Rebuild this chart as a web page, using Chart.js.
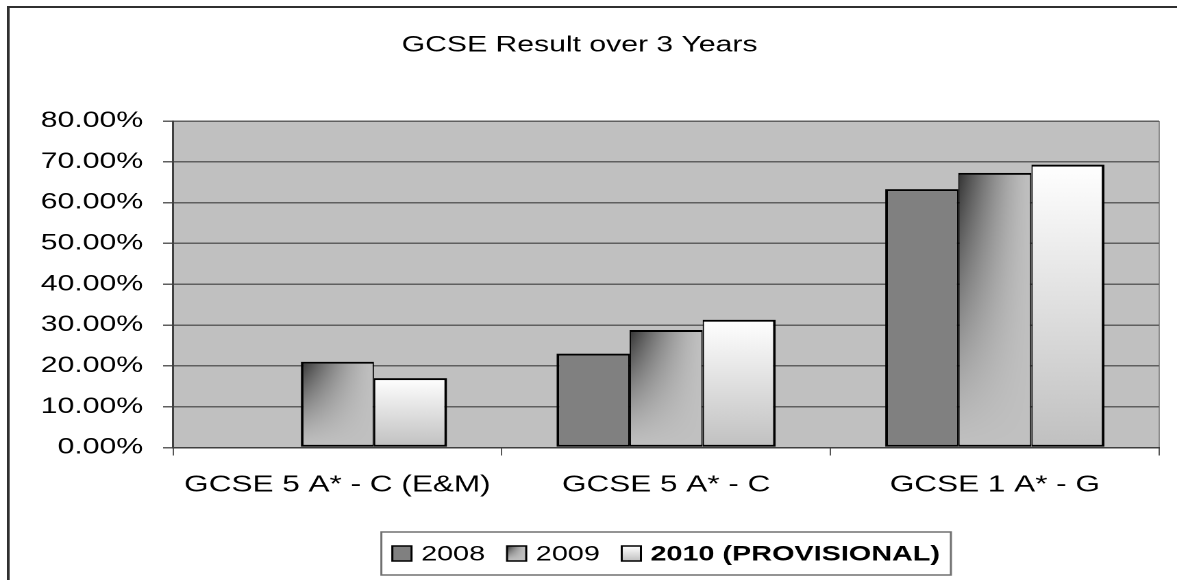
<!DOCTYPE html>
<html>
<head>
<meta charset="utf-8">
<title>GCSE Result over 3 Years</title>
<script src="https://cdn.jsdelivr.net/npm/chart.js@4.4.1/dist/chart.umd.min.js"></script>
<style>
  html, body { margin: 0; padding: 0; background: #fff; overflow: hidden; }
  /* the original picture is stretched sideways, so draw narrow and stretch */
  #wrap { width: 859px; height: 580px; transform: scaleX(1.3702); transform-origin: 0 0; }
</style>
</head>
<body>
<div id="wrap"><canvas id="chart"></canvas></div>
<script>
const categories = ['GCSE 5 A* - C (E&M)', 'GCSE 5 A* - C', 'GCSE 1 A* - G']
const years = ['2008', '2009', '2010 (PROVISIONAL)']
const values2008 = [null, 23.0, 63.3]
const values2009 = [21.0, 28.8, 67.3]
const values2010 = [17.0, 31.3, 69.3]
const yTicks = [0, 10, 20, 30, 40, 50, 60, 70, 80]

const FONT = '"Liberation Sans", Arial, sans-serif'
const DPR = 2
const CAT_PCT = 0.667
const LEGEND_TOP = 532
const LEGEND_H = 43

// where chart.js will put a bar, worked out from the scales
const barRect = (c) => {
  const xs = c.chart.scales.x, ys = c.chart.scales.y
  if (!xs || !ys || c.raw == null) return null
  const n = c.chart.data.datasets.length
  const cat = xs.getPixelForValue(1) - xs.getPixelForValue(0)
  const group = cat * CAT_PCT
  const w = group / n
  const left = xs.getPixelForValue(c.dataIndex) - group / 2 + c.datasetIndex * w
  const top = ys.getPixelForValue(c.raw)
  const bottom = ys.getPixelForValue(0)
  const r = { left, top, w, h: bottom - top }
  if (![r.left, r.top, r.w, r.h].every(Number.isFinite) || r.w < 1 || r.h < 1) return null
  return r
}

// dark top-left corner fading out to light grey
const cornerFill = (ctx, left, top, w, h) => {
  const pw = Math.max(2, Math.round(w * DPR)), ph = Math.max(2, Math.round(h * DPR))
  const off = document.createElement('canvas')
  off.width = pw
  off.height = ph
  const octx = off.getContext('2d')
  const img = octx.createImageData(pw, ph)
  for (let y = 0; y < ph; y++) {
    const v = y / (ph - 1)
    for (let x = 0; x < pw; x++) {
      const u = x / (pw - 1)
      const d = Math.pow(1 - u, 1.5) * Math.pow(1 - v, 1.3)
      const g = Math.round(192 - 141 * d)
      const k = (y * pw + x) * 4
      img.data[k] = g
      img.data[k + 1] = g
      img.data[k + 2] = g
      img.data[k + 3] = 255
    }
  }
  octx.putImageData(img, 0, 0)
  const pat = ctx.createPattern(off, 'no-repeat')
  pat.setTransform(new DOMMatrix().translate(left, top).scale(1 / DPR))
  return pat
}

const topFade = (ctx, top, h) => {
  const g = ctx.createLinearGradient(0, top, 0, top + h)
  g.addColorStop(0, '#ffffff')
  g.addColorStop(1, '#c0c0c0')
  return g
}

// thinner inner edges so two touching bars don't double up
const sideBorders = (c) => {
  const ds = c.chart.data.datasets
  const prev = ds[c.datasetIndex - 1], next = ds[c.datasetIndex + 1]
  const hasPrev = prev && prev.data[c.dataIndex] != null
  const hasNext = next && next.data[c.dataIndex] != null
  return { top: 2, bottom: 2, left: hasPrev ? 1 : 2, right: hasNext ? 1 : 2 }
}

const frame = {
  id: 'frame',
  beforeDraw(chart) {
    const { ctx, chartArea: a } = chart
    ctx.save()
    ctx.fillStyle = '#c0c0c0'
    ctx.fillRect(a.left, a.top, a.right - a.left, a.bottom - a.top)
    ctx.strokeStyle = '#8c8c8c'
    ctx.lineWidth = 1
    ctx.beginPath()
    ctx.moveTo(a.right, a.top)
    ctx.lineTo(a.right, a.bottom)
    ctx.stroke()
    // outer chart border
    ctx.strokeStyle = '#303030'
    ctx.lineWidth = 2
    ctx.strokeRect(6, 7, chart.width + 20, chart.height + 20)
    ctx.restore()
  },
  afterDraw(chart) {
    const { ctx, chartArea: a } = chart
    ctx.save()
    const size = 21
    const sqW = 14, sqH = 15, gapIn = 7, gapOut = 16, pad = 8
    const items = years.map((label, i) => {
      const bold = i === years.length - 1
      ctx.font = (bold ? 'bold ' : '') + size + 'px ' + FONT
      return { label, bold, w: ctx.measureText(label).width }
    })
    let total = pad * 2
    items.forEach((it, i) => { total += sqW + gapIn + it.w + (i < items.length - 1 ? gapOut : 0) })
    const boxLeft = (a.left + a.right) / 2 - total / 2
    ctx.strokeStyle = '#707070'
    ctx.lineWidth = 1.5
    ctx.strokeRect(boxLeft, LEGEND_TOP, total, LEGEND_H)
    const cy = LEGEND_TOP + LEGEND_H / 2
    let x = boxLeft + pad
    items.forEach((it, i) => {
      const sy = cy - sqH / 2
      if (i === 0) ctx.fillStyle = '#808080'
      else if (i === 1) ctx.fillStyle = cornerFill(ctx, x, sy, sqW, sqH)
      else ctx.fillStyle = topFade(ctx, sy, sqH)
      ctx.fillRect(x, sy, sqW, sqH)
      ctx.strokeStyle = '#000'
      ctx.lineWidth = 1.5
      ctx.strokeRect(x, sy, sqW, sqH)
      x += sqW + gapIn
      ctx.font = (it.bold ? 'bold ' : '') + size + 'px ' + FONT
      ctx.fillStyle = '#000'
      ctx.textAlign = 'left'
      ctx.textBaseline = 'middle'
      ctx.fillText(it.label, x, cy + 1)
      x += it.w + gapOut
    })
    ctx.restore()
  }
}

const ctx = document.getElementById('chart').getContext('2d')

const myChart = new Chart(ctx, {
  type: 'bar',
  data: {
    labels: categories,
    datasets: [{
      label: years[0],
      data: values2008,
      backgroundColor: '#808080',
      borderColor: '#000',
      borderWidth: sideBorders,
      borderSkipped: false
    },
    {
      label: years[1],
      data: values2009,
      backgroundColor: (c) => {
        const r = barRect(c)
        return r ? cornerFill(c.chart.ctx, r.left, r.top, r.w, r.h) : '#a0a0a0'
      },
      borderColor: '#000',
      borderWidth: sideBorders,
      borderSkipped: false
    },
    {
      label: years[2],
      data: values2010,
      backgroundColor: (c) => {
        const r = barRect(c)
        return r ? topFade(c.chart.ctx, r.top, r.h) : '#e0e0e0'
      },
      borderColor: '#000',
      borderWidth: sideBorders,
      borderSkipped: false
    }]
  },
  options: {
    responsive: true,
    maintainAspectRatio: false,
    devicePixelRatio: DPR,
    animation: false,
    categoryPercentage: CAT_PCT,
    barPercentage: 1,
    layout: { padding: { top: 0, left: 0, right: 13, bottom: 0 } },
    plugins: {
      legend: { display: false },
      tooltip: { enabled: false },
      title: {
        display: true,
        text: 'GCSE Result over 3 Years',
        color: '#000',
        font: { family: FONT, size: 22, weight: 'normal' },
        padding: { top: 32, bottom: 62.6 }
      }
    },
    scales: {
      x: {
        afterFit: (s) => { s.height = 132.5 },
        grid: { drawOnChartArea: false, tickLength: 8, color: '#555', lineWidth: 1 },
        border: { color: '#404040', width: 1.5 },
        ticks: { color: '#000', padding: 16, maxRotation: 0, font: { family: FONT, size: 23 } }
      },
      y: {
        min: yTicks[0],
        max: yTicks[yTicks.length - 1],
        afterFit: (s) => { s.width = 126.3 },
        grid: { color: '#5f5f5f', lineWidth: 1.5, tickLength: 7.3 },
        border: { color: '#404040', width: 1.5 },
        ticks: {
          stepSize: yTicks[1] - yTicks[0],
          color: '#000',
          padding: 14.6,
          font: { family: FONT, size: 22 },
          callback: (v) => v.toFixed(2) + '%'
        }
      }
    }
  },
  plugins: [frame]
})
</script>
</body>
</html>
